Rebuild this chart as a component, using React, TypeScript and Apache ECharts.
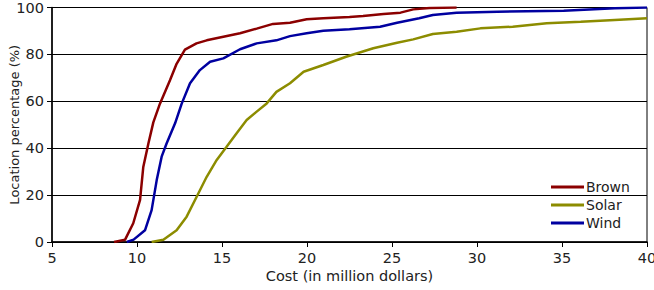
import React, { useEffect, useRef } from "react";
import * as echarts from "echarts";

const brownX = [8.65, 9.3, 9.78, 10.18, 10.37, 10.67, 10.96, 11.35, 11.94, 12.33, 12.82, 13.5, 14.1, 15.08, 16.06, 17.04, 18.0, 19.0, 19.98, 20.96, 22.5, 23.3, 24.5, 25.5, 26.25, 27.2, 28.8];
const brownY = [0, 1, 8, 18, 32, 42, 51, 59, 69, 76, 82, 84.7, 86, 87.5, 89, 91, 93, 93.5, 95, 95.4, 96, 96.4, 97.2, 97.8, 99.2, 99.8, 100];

const windX = [9.4, 9.8, 10.47, 10.86, 11.16, 11.45, 11.74, 12.24, 12.63, 13.12, 13.7, 14.3, 15.08, 16.06, 17.04, 18.2, 19.0, 19.98, 20.96, 22.5, 24.3, 25.3, 26.6, 27.4, 28.8, 31.2, 35.1, 38.1, 40];
const windY = [0, 1, 5, 13.6, 26.4, 36.4, 42, 50.6, 59, 67.7, 73.3, 76.9, 78.3, 82.2, 84.7, 86, 87.8, 89, 90.1, 90.7, 91.8, 93.5, 95.4, 96.8, 97.8, 98.2, 98.6, 99.7, 100];

const solarX = [10.86, 11.55, 12.33, 12.92, 13.51, 14.1, 14.69, 15.27, 15.86, 16.45, 17.04, 17.63, 18.2, 19.0, 19.8, 20.96, 22.3, 23.9, 25.3, 26.25, 27.4, 28.8, 30.2, 32.1, 34.1, 36.1, 38.1, 40];
const solarY = [0, 1, 5, 10.8, 19.3, 27.8, 35, 40.6, 46.4, 52, 55.6, 59.1, 64, 67.7, 72.6, 75.5, 79, 82.6, 85, 86.4, 88.7, 89.7, 91.1, 91.8, 93.3, 93.9, 94.7, 95.4];

const seriesNames = ["Brown", "Solar", "Wind"];
const seriesColors = ["#8b0000", "#8c8c00", "#0000a0"];

const zip = (xs: number[], ys: number[]) => xs.map((x, i) => [x, ys[i]]);

export default function App() {
  const ref = useRef<HTMLDivElement>(null);
  useEffect(() => {
    if (!ref.current) return;
    const chart = echarts.init(ref.current, undefined, { renderer: "svg" });
    const font = "DejaVu Sans";
    const dataSets = [zip(brownX, brownY), zip(solarX, solarY), zip(windX, windY)];
    chart.setOption({
      animation: false,
      grid: {
        left: 52,
        right: 7,
        top: 7.5,
        bottom: 48,
        show: true,
        borderColor: "#000",
        borderWidth: 1,
        containLabel: false,
        outerBoundsMode: "none",
      },
      xAxis: {
        type: "value",
        min: 5,
        max: 40,
        interval: 5,
        name: "Cost (in million dollars)",
        nameLocation: "middle",
        nameGap: 26,
        nameMoveOverlap: false,
        nameTextStyle: { fontFamily: font, fontSize: 14.5, color: "#222" },
        axisLine: { lineStyle: { color: "#000", width: 1.5 } },
        axisTick: { show: true, length: 5, lineStyle: { color: "#000" } },
        axisLabel: { fontFamily: font, fontSize: 14.5, color: "#222", margin: 8 },
        splitLine: { show: false },
      },
      yAxis: {
        type: "value",
        min: 0,
        max: 100,
        interval: 20,
        name: "Location percentage (%)",
        nameLocation: "middle",
        nameGap: 31,
        nameMoveOverlap: false,
        nameTextStyle: { fontFamily: font, fontSize: 13, color: "#222" },
        axisLine: { show: true, lineStyle: { color: "#000", width: 1.5 } },
        axisTick: { show: true, length: 5, lineStyle: { color: "#000" } },
        axisLabel: { fontFamily: font, fontSize: 14.5, color: "#222", margin: 8 },
        splitLine: { show: true, lineStyle: { color: "#000", width: 1 } },
      },
      legend: {
        orient: "vertical",
        left: 546,
        top: 175,
        itemWidth: 33,
        itemHeight: 3,
        itemGap: 4,
        icon: "rect",
        textStyle: { fontFamily: font, fontSize: 14, color: "#222", lineHeight: 14, padding: [0, 0, 0, -3] },
        data: seriesNames,
      },
      series: seriesNames.map((name, i) => ({
        name,
        type: "line",
        data: dataSets[i],
        showSymbol: false,
        symbol: "none",
        lineStyle: { color: seriesColors[i], width: 2.5 },
        itemStyle: { color: seriesColors[i] },
      })),
    });
    return () => chart.dispose();
  }, []);
  return <div ref={ref} style={{ width: 654, height: 290, position: "absolute", left: 0, top: 0 }} />;
}
